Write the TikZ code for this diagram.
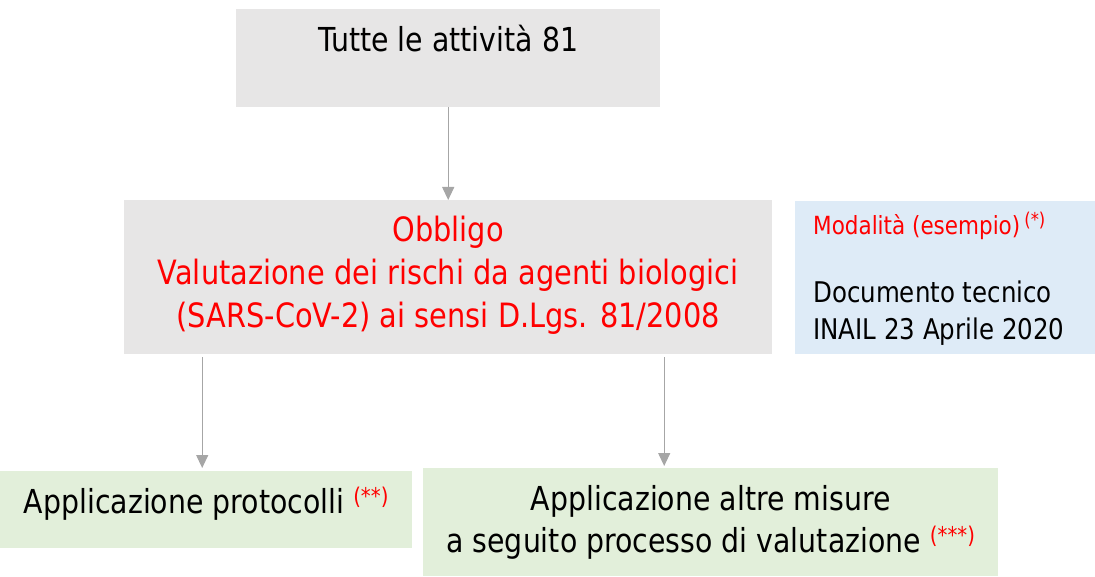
\documentclass[tikz,border=0pt]{standalone}
\usepackage{fontspec}
\setmainfont{DejaVu Sans}[FakeStretch=0.86]
\usetikzlibrary{arrows.meta,positioning}
\definecolor{grayfill}{HTML}{E7E6E6}
\definecolor{bluefill}{HTML}{DEEBF7}
\definecolor{greenfill}{HTML}{E2EFDA}
\definecolor{arrowgray}{HTML}{A6A6A6}
\newcommand{\nota}[3]{{\fontsize{#1}{#1}\selectfont\color{red}\raisebox{#2}{#3}}}
\begin{document}
\begin{tikzpicture}[x=1pt,y=-1pt,
    box/.style={rectangle, anchor=north west, minimum width=#1},
    maintext/.style={font=\fontsize{33}{42}\selectfont},
    arrow/.style={draw=arrowgray, line width=1.2pt, -{Triangle[width=12pt,length=13pt]}}]
    \tikzstyle{every node}+=[inner sep=0pt]
    \useasboundingbox (0,0) rectangle (1095,577);
    \node [box=424pt, minimum height=98pt, fill=grayfill] (top) at (236,9) {};
    \node [box=648pt, minimum height=154pt, fill=grayfill] (mid) at (124,200) {};
    \node [box=300pt, minimum height=153pt, fill=bluefill] (modal) at (795,201) {};
    \node [box=412pt, minimum height=77pt, fill=greenfill] (prot) at (0,471) {};
    \node [box=575pt, minimum height=108pt, fill=greenfill] (misure) at (423,468) {};
    \node [maintext, anchor=base] (toptext) at ([yshift=-43pt]top.north) {Tutte le attività 81};
    \node [maintext, align=center, text=red, font=\fontsize{33.5}{43}\selectfont] (midtext) at ([yshift=2pt]mid.center) {Obbligo\\Valutazione dei rischi da agenti biologici\\(SARS-CoV-2) ai sensi D.Lgs. 81/2008};
    \node [anchor=base west, text=red, font=\fontsize{25}{30}\selectfont] (modaltitle) at ([xshift=18pt,yshift=-34pt]modal.north west) {Modalità (esempio)\,\nota{19}{8pt}{(*)}};
    \node [anchor=south west, align=left, font=\fontsize{28.5}{37}\selectfont] (modaltext) at ([xshift=18pt,yshift=9pt]modal.south west) {Documento tecnico\\INAIL 23 Aprile 2020};
    \node [maintext, anchor=base] (prottext) at ([yshift=-42pt]prot.north) {Applicazione protocolli \nota{23}{9pt}{(**)}};
    \node [maintext, align=center] (misuretext) at (misure.center) {Applicazione altre misure\\a seguito processo di valutazione \nota{23}{9pt}{(***)}};
    \draw [arrow] (top.south) -- (mid.north);
    \draw [arrow] ([xshift=-4pt,yshift=-3pt]prot.north |- mid.south) -- ([xshift=-4pt,yshift=3pt]prot.north);
    \draw [arrow] ([xshift=-46.5pt,yshift=-3pt]misure.north |- mid.south) -- ([xshift=-46.5pt,yshift=2pt]misure.north);
\end{tikzpicture}
\end{document}
